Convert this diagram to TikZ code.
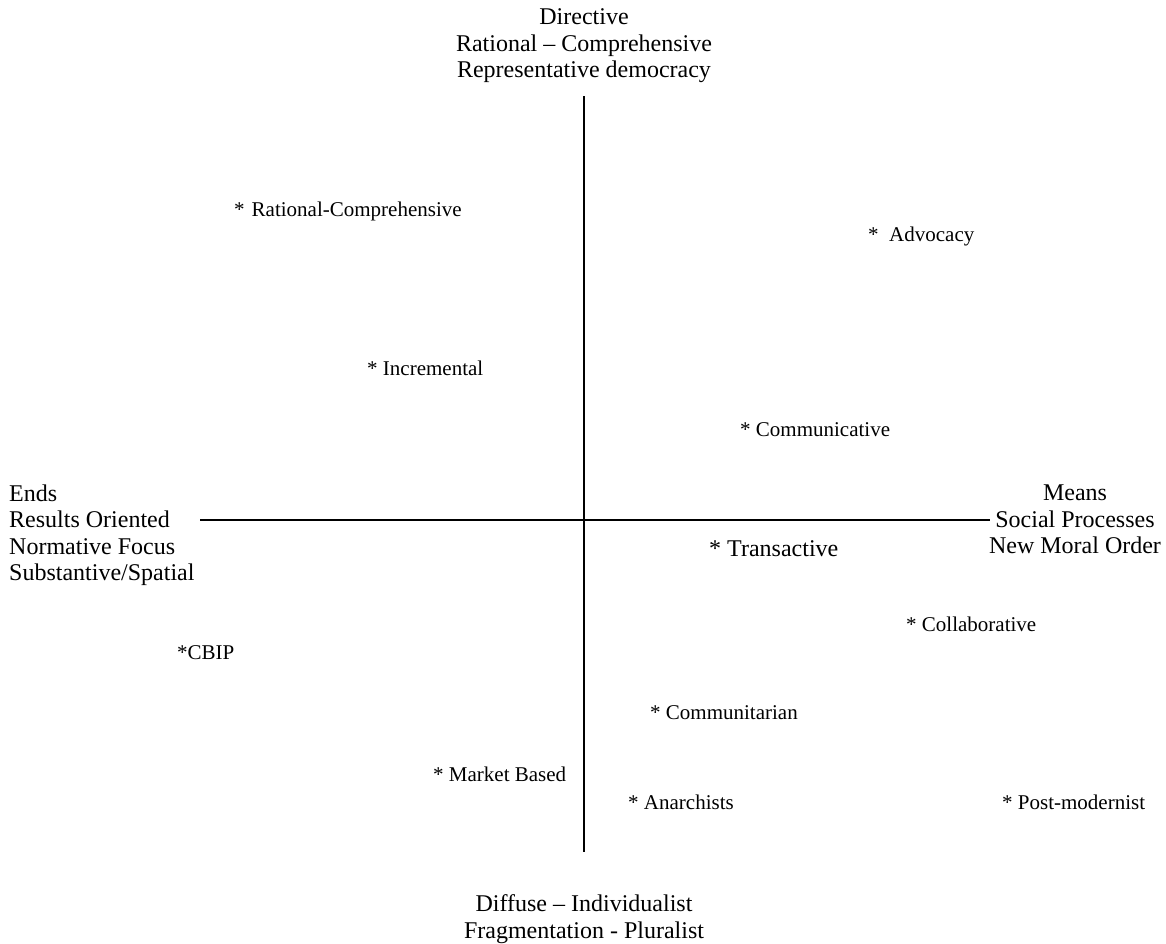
\documentclass[tikz,border=0pt]{standalone}
\usepackage{fontspec}
\setmainfont{Liberation Serif}
\begin{document}
\begin{tikzpicture}[x=1pt,y=-1pt,
  axislabel/.style={inner sep=0pt, align=center, font=\fontsize{24}{26.5}\selectfont},
  model/.style={inner sep=0pt, anchor=base west, font=\fontsize{21}{24}\selectfont},
  bigmodel/.style={inner sep=0pt, anchor=base west, font=\fontsize{24}{26.5}\selectfont},
  axis/.style={line width=2pt}]
\useasboundingbox (0,0) rectangle (1166,943);

% axis end points
\coordinate (top) at (584,96);
\coordinate (bottom) at (584,852);
\coordinate (left) at (200,520);
\coordinate (right) at (990,520);

\draw[axis] (top) -- (bottom);
\draw[axis] (left) -- (right);

% pole labels
\node[axislabel, anchor=north] (directive) at (584,8.6)
  {Directive\\Rational -- Comprehensive\\Representative democracy};
\node[axislabel, anchor=north west, align=left] (ends) at (9,484.6)
  {Ends\\Results Oriented\\Normative Focus\\Substantive/Spatial};
\node[axislabel, anchor=north] (means) at (1075,484.6)
  {Means\\Social Processes\\New Moral Order};
\node[axislabel, anchor=north] (diffuse) at (584,894.6)
  {Diffuse -- Individualist\\Fragmentation - Pluralist};

% planning models
\node[model] (ratcomp) at (234,216) {*\hspace{7pt}Rational-Comprehensive};
\node[model] (advocacy) at (868,241) {*\ \ Advocacy};
\node[model] (incremental) at (367,375) {* Incremental};
\node[model] (communicative) at (740,436) {* Communicative};
\node[bigmodel] (transactive) at (709,556) {* Transactive};
\node[model] (collaborative) at (906,631) {* Collaborative};
\node[model] (cbip) at (177,659) {*CBIP};
\node[model] (communitarian) at (650,719) {* Communitarian};
\node[model] (market) at (433,781) {* Market Based};
\node[model] (anarchists) at (628,809) {* Anarchists};
\node[model] (postmod) at (1002,809) {* Post-modernist};
\end{tikzpicture}
\end{document}
